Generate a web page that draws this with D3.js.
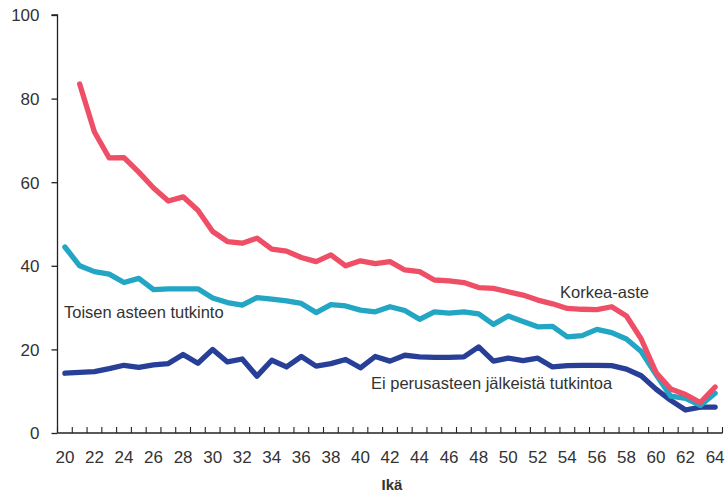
<!DOCTYPE html>
<html>
<head>
<meta charset="utf-8">
<script src="https://cdn.jsdelivr.net/npm/d3@7/dist/d3.min.js"></script>
<style>
  html, body { margin: 0; padding: 0; background: #fff; }
  text { font-family: "Liberation Sans", Arial, sans-serif; fill: #333; }
</style>
</head>
<body>
<svg id="chart" width="727" height="494"></svg>
<script>
const ages = d3.range(20, 65);
const korkea = [null, 83.5, 72, 65.8, 65.9, 62.4, 58.6, 55.5, 56.5, 53.3, 48.2, 45.8, 45.4, 46.6, 44, 43.5, 42, 41, 42.6, 40, 41.2, 40.5, 41, 39, 38.6, 36.6, 36.4, 36, 34.8, 34.6, 33.8, 33, 31.8, 30.9, 29.8, 29.6, 29.5, 30.2, 28, 22.5, 14.5, 10.5, 9.2, 7.3, 11];
const toisen = [44.5, 40, 38.6, 38, 36, 37, 34.3, 34.5, 34.5, 34.5, 32.3, 31.2, 30.6, 32.4, 32, 31.6, 31, 28.8, 30.7, 30.4, 29.4, 29, 30.2, 29.3, 27.2, 29, 28.7, 29, 28.5, 26, 28, 26.7, 25.4, 25.5, 23, 23.3, 24.8, 24, 22.5, 19.5, 14, 8.8, 8.3, 6.6, 9.5];
const eiPerus = [14.3, 14.5, 14.7, 15.4, 16.2, 15.7, 16.3, 16.6, 18.8, 16.7, 20, 17, 17.7, 13.6, 17.4, 15.8, 18.3, 16, 16.6, 17.6, 15.6, 18.3, 17.2, 18.6, 18.2, 18.1, 18.1, 18.2, 20.6, 17.2, 17.9, 17.3, 17.9, 15.8, 16.1, 16.2, 16.2, 16.1, 15.3, 13.7, 10.5, 7.8, 5.5, 6.2, 6.2];
const yTicks = [0, 20, 40, 60, 80, 100];
const xTickLabels = d3.range(20, 65, 2);
const seriesNames = ["Korkea-aste", "Toisen asteen tutkinto", "Ei perusasteen jälkeistä tutkintoa"];
const seriesColors = ["#ef4f66", "#22a6c4", "#283f98"];
const xTitle = "Ikä";

const svg = d3.select("#chart");
const mLeft = 57.5, mRight = 722.5, mTop = 15, mBottom = 433;

const x = d3.scaleBand().domain(ages).range([mLeft, mRight]).paddingInner(0).paddingOuter(0);
const y = d3.scaleLinear().domain([0, 100]).range([mBottom, mTop]);

// y axis
const yAxis = d3.axisLeft(y).tickValues(yTicks).tickSize(6).tickPadding(12).tickFormat(d3.format("d"));
const gy = svg.append("g").attr("transform", `translate(${mLeft},0)`).call(yAxis);
gy.select(".domain").attr("stroke", "#222").attr("stroke-width", 1.3).attr("d", `M-6,${mTop}H0V${mBottom}`);
gy.selectAll(".tick line").attr("stroke", "#222").attr("stroke-width", 1.3);
gy.selectAll(".tick text").style("font-size", "17px").attr("fill", "#333").attr("dy", "0.35em");

// x axis: small ticks at band boundaries
const gx = svg.append("g").attr("transform", `translate(0,${mBottom})`);
gx.append("line").attr("x1", mLeft).attr("x2", mRight).attr("stroke", "#222").attr("stroke-width", 1.3);
const boundaries = ages.map(a => x(a)).concat([x(ages[ages.length - 1]) + x.bandwidth()]);
gx.selectAll("line.tk").data(boundaries).enter().append("line")
  .attr("class", "tk")
  .attr("x1", d => d).attr("x2", d => d).attr("y1", -6).attr("y2", 0)
  .attr("stroke", "#222").attr("stroke-width", 1.1);
gx.selectAll("text.lbl").data(xTickLabels).enter().append("text")
  .attr("class", "lbl")
  .attr("x", d => x(d) + x.bandwidth() / 2)
  .attr("y", 30)
  .attr("text-anchor", "middle")
  .style("font-size", "17px")
  .text(d => d);

svg.append("text").attr("x", (mLeft + mRight) / 2 + 2).attr("y", 490)
  .attr("text-anchor", "middle").style("font-size", "15px").style("font-weight", "bold")
  .attr("fill", "#222").text(xTitle);

// lines
const line = d3.line()
  .defined(d => d.v !== null)
  .x(d => x(d.a) + x.bandwidth() / 2)
  .y(d => y(d.v));

const allSeries = [eiPerus, toisen, korkea];
const order = [2, 1, 0];
allSeries.forEach((vals, i) => {
  svg.append("path")
    .datum(ages.map((a, j) => ({ a: a, v: vals[j] })))
    .attr("fill", "none")
    .attr("stroke", seriesColors[order[i]])
    .attr("stroke-width", 5.3)
    .attr("stroke-linejoin", "round")
    .attr("stroke-linecap", "round")
    .attr("d", line);
});

// labels
const labels = [
  { name: seriesNames[0], x: 560, y: 298 },
  { name: seriesNames[1], x: 64, y: 318 },
  { name: seriesNames[2], x: 371, y: 389 }
];
svg.selectAll("text.series").data(labels).enter().append("text")
  .attr("class", "series")
  .attr("x", d => d.x).attr("y", d => d.y)
  .style("font-size", "16.5px")
  .text(d => d.name);
</script>
</body>
</html>
